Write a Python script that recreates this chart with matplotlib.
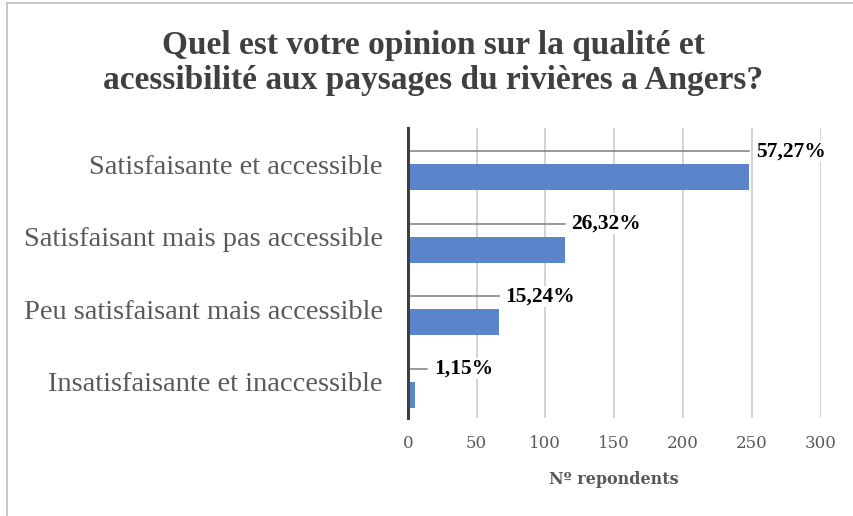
import matplotlib
matplotlib.use("Agg")
import matplotlib.pyplot as plt
from matplotlib.lines import Line2D

categories = ["Satisfaisante et accessible",
              "Satisfaisant mais pas accessible",
              "Peu satisfaisant mais accessible",
              "Insatisfaisante et inaccessible"]
respondents = [248, 114, 66, 5]
pct_labels = ["57,27%", "26,32%", "15,24%", "1,15%"]
x_ticks = [0, 50, 100, 150, 200, 250, 300]

title = "Quel est votre opinion sur la qualité et\nacessibilité aux paysages du rivières a Angers?"
xlabel = "Nº repondents"

plt.rcParams['font.family'] = ['Liberation Serif', 'DejaVu Serif']

fig = plt.figure(figsize=(8.54, 5.16), dpi=100)
ax = fig.add_axes([407.7/854, 1-418/516, (820.7-407.7)/854, (418-128)/516])

n = len(categories)
ypos = list(range(n))
bar_off = 0.18
bar_h = 0.36
ax.barh([y + bar_off for y in ypos], respondents, height=bar_h,
        color='#5B85CB', zorder=3)

for y, v, lab in zip(ypos, respondents, pct_labels):
    lx = max(v, 14)
    ax.plot([0, lx], [y - bar_off, y - bar_off], color='#7F7F7F', lw=1.1, zorder=2)
    ax.annotate(lab, xy=(lx, y - bar_off), xytext=(5, 0), textcoords='offset points',
                ha='left', va='center', fontsize=15.5, fontweight='bold', color='black',
                bbox=dict(facecolor='white', edgecolor='none', pad=0.5), zorder=4)

ax.set_ylim(n - 0.5, -0.5)
ax.set_xlim(0, 300)
ax.set_yticks(ypos)
ax.set_yticklabels(categories, fontsize=20.5, color='#595959')
ax.set_xticks(x_ticks)
ax.set_xticklabels([str(t) for t in x_ticks], fontsize=12, color='#595959',
                   family=['DejaVu Serif'])
ax.tick_params(axis='y', length=0, pad=18)
ax.tick_params(axis='x', length=0, pad=12)
ax.grid(axis='x', color='#C8C8C8', lw=1.1, zorder=0)
ax.set_axisbelow(True)
for s in ['top', 'right', 'bottom']:
    ax.spines[s].set_visible(False)
ax.spines['left'].set_color('#404040')
ax.spines['left'].set_linewidth(2.2)
ax.spines['left'].set_zorder(5)

ax.set_xlabel(xlabel, fontsize=11.5, fontweight='bold', color='#595959', labelpad=14,
              family=['DejaVu Serif'])

fig.text(433/854, 1-63/516, title, ha='center', va='center', fontsize=24,
         fontweight='bold', color='#404040', linespacing=1.2)

# chart frame
fig.add_artist(Line2D([7/854, 7/854], [0, 1-3/516], color='#BFBFBF', lw=1.2, transform=fig.transFigure))
fig.add_artist(Line2D([7/854, 1], [1-3/516, 1-3/516], color='#BFBFBF', lw=1.2, transform=fig.transFigure))

fig.savefig("out.png", dpi=100)
